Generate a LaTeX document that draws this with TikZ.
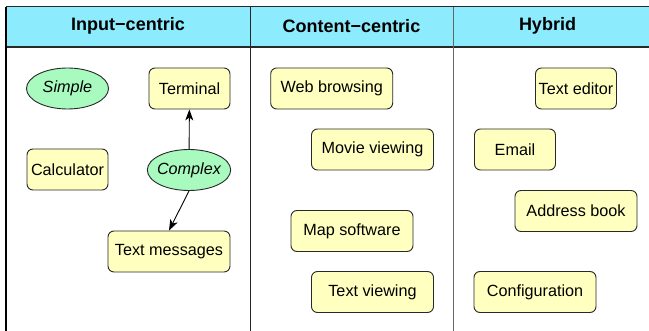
\documentclass[tikz,border=0pt]{standalone}
\usepackage{fontspec}
\setmainfont{Liberation Sans}
\usetikzlibrary{shapes.geometric,arrows.meta}
\definecolor{hdr}{RGB}{140,235,252}
\definecolor{boxy}{RGB}{255,255,192}
\definecolor{ellg}{RGB}{168,250,190}
\definecolor{edge}{RGB}{40,40,40}
\tikzset{
  app/.style={draw=edge, line width=0.9pt, fill=boxy, rounded corners=6pt,
    minimum height=41pt, inner sep=0pt, font=\fontsize{16.2}{19}\selectfont},
  narrow/.style={app, minimum width=81pt},
  wide/.style={app, minimum width=122pt},
  kind/.style={draw=edge, line width=0.9pt, fill=ellg, ellipse, minimum width=82pt,
    minimum height=41pt, inner xsep=-2.5pt, inner ysep=0pt, font=\fontsize{16.2}{19}\selectfont\itshape},
  hdrtext/.style={font=\fontsize{18}{21}\selectfont\bfseries},
  link/.style={-{Stealth[length=11pt,width=8pt,inset=3pt]}, line width=0.9pt, black},
}
\begin{document}
\begin{tikzpicture}[x=1pt,y=-1pt]
\useasboundingbox (0,0) rectangle (649,331);
% header
\fill[hdr] (6,7) rectangle (649,47);
\draw[line width=1pt, edge] (6,7) -- (649,7);
\draw[line width=1.2pt, edge] (6,47) -- (649,47);
\draw[line width=1.3pt, black] (6,7) -- (6,331);
\draw[line width=1pt, black!85] (250,7) -- (250,331);
\draw[line width=1pt, black!60] (453,7) -- (453,331);
\node[hdrtext] (h1) at (128,26) {Input−centric};
\node[hdrtext] (h2) at (351.5,26) {Content−centric};
\node[hdrtext] (h3) at (547.5,26) {Hybrid};
% column 1
\node[kind] (simple) at (67.5,88.5) {Simple};
\node[narrow] (terminal) at (189.5,88.5) {Terminal};
\node[narrow] (calc) at (67.5,169.5) {Calculator};
\node[kind] (complex) at (189,170) {Complex};
\node[wide] (textmsg) at (169,251.5) {Text messages};
\draw[link] (complex) -- (terminal);
\draw[link] (complex.south) -- (textmsg.north);
% column 2
\node[wide] (web) at (331.7,88.5) {Web browsing};
\node[wide] (movie) at (372.5,149.5) {Movie viewing};
\node[wide] (map) at (352,231) {Map software};
\node[wide] (textview) at (372.5,292) {Text viewing};
% column 3
\node[narrow] (editor) at (576,88.5) {Text editor};
\node[narrow] (email) at (515,149.5) {Email};
\node[wide] (address) at (576,211) {Address book};
\node[wide] (config) at (535,292) {Configuration};
\end{tikzpicture}
\end{document}
